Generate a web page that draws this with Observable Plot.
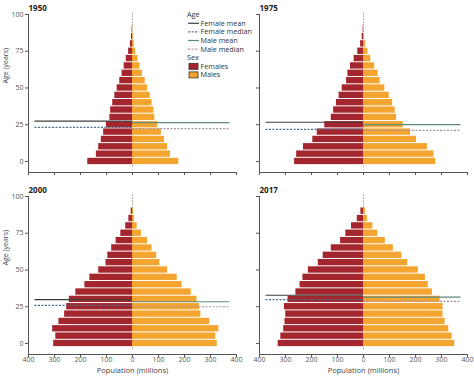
<!DOCTYPE html>
<html>
<head>
<meta charset="utf-8">
<script src="https://cdn.jsdelivr.net/npm/d3@7"></script>
<script src="https://cdn.jsdelivr.net/npm/@observablehq/plot@0.6"></script>
<style>
  body { margin: 0; background: #fff; }
  #wrap { position: relative; width: 474px; height: 376px; overflow: hidden; font-family: "Open Sans", sans-serif; }
  .panel { position: absolute; }
  #legend { position: absolute; left: 0; top: 0; pointer-events: none; }
</style>
</head>
<body>
<div id="wrap"></div>
<script>
// ---------------- data ----------------
const years = ["1950", "1975", "2000", "2017"];
const ages = [0, 5, 10, 15, 20, 25, 30, 35, 40, 45, 50, 55, 60, 65, 70, 75, 80, 85, 90];

// population in millions by age group
const females1950 = [172, 139, 130, 120, 111, 100, 87, 84, 76, 68, 59, 49, 40, 32, 24, 15, 8, 4, 1.5];
const males1950   = [178, 146, 135, 123, 111, 97, 86, 82, 75, 68, 58, 49, 38, 29, 21, 12, 7, 3, 1];
const females1975 = [265, 257, 231, 195, 178, 149, 124, 115, 104, 94, 82, 65, 60, 50, 36, 22, 11, 5, 1.5];
const males1975   = [278, 271, 246, 204, 181, 153, 127, 122, 112, 99, 82, 64, 56, 43, 28, 17, 9, 4, 1];
const females2000 = [303, 295, 307, 283, 261, 253, 243, 218, 183, 164, 130, 102, 95, 80, 63, 45, 26, 14, 5];
const males2000   = [326, 320, 332, 297, 263, 258, 248, 226, 191, 172, 135, 105, 93, 75, 58, 34, 18, 8, 4];
const females2017 = [328, 318, 307, 302, 299, 304, 290, 260, 244, 233, 212, 174, 155, 124, 88, 68, 46, 24, 10];
const males2017   = [351, 341, 328, 314, 306, 306, 295, 265, 249, 238, 211, 170, 148, 115, 84, 55, 36, 15, 8];

// mean / median ages (years)
const femaleMean   = [27.5, 26.7, 29.9, 32.8];
const femaleMedian = [23.2, 21.9, 25.9, 29.9];
const maleMean     = [26.4, 25.1, 28.4, 31.5];
const maleMedian   = [22.3, 21.2, 25.0, 28.6];

// axes
const xTicks = [-400, -300, -200, -100, 0, 100, 200, 300, 400];
const yTicks = [0, 25, 50, 75, 100];
const xDomain = [-400, 400];
const yDomain = [-7.5, 100];
const lineExtent = 375;           // extent of the mean/median lines (millions)
const zeroLineSpan = [-4, 101];   // extent of the dotted line at 0 (years)

const ageLegendTitle = "Age";
const ageLegendLabels = ["Female mean", "Female median", "Male mean", "Male median"];
const sexLegendTitle = "Sex";
const sexLegendLabels = ["Females", "Males"];
const xLabel = "Population (millions)";
const yLabel = "Age (years)";

// ---------------- styles ----------------
const FONT = "'Open Sans', sans-serif";
const femaleColor = "#a3252e";
const maleColor = "#f4a530";
const lineStyles = {
  "Female mean":   {stroke: "#3f3f3f", dash: null},
  "Female median": {stroke: "#4d6b8a", dash: "2,1.5"},
  "Male mean":     {stroke: "#5f8a7c", dash: null},
  "Male median":   {stroke: "#a98f9c", dash: "2,1.5"}
};
const femaleByYear = [females1950, females1975, females2000, females2017];
const maleByYear = [males1950, males1975, males2000, males2017];
const statByKey = {
  "Female mean": femaleMean, "Female median": femaleMedian,
  "Male mean": maleMean, "Male median": maleMedian
};

const layout = [
  {left: 0,   top: 0,   ml: 28, mr: 4, h: 186, mb: 14, yLabels: true,  xLabels: false},
  {left: 234, top: 0,   ml: 25, mr: 7, h: 186, mb: 14, yLabels: false, xLabels: false},
  {left: 0,   top: 182, ml: 28, mr: 4, h: 194, mb: 22, yLabels: true,  xLabels: true},
  {left: 234, top: 182, ml: 25, mr: 7, h: 194, mb: 22, yLabels: false, xLabels: true}
];

const wrap = document.getElementById("wrap");

years.forEach((year, i) => {
  const cfg = layout[i];
  const rows = ages.map((a, k) => ({age: a, f: femaleByYear[i][k], m: maleByYear[i][k]}));
  const statMarks = ageLegendLabels.map(key => {
    const isFemale = key.startsWith("Female");
    const st = lineStyles[key];
    return Plot.ruleY([statByKey[key][i]], {
      y: d => d,
      x1: isFemale ? -lineExtent : 0,
      x2: isFemale ? 0 : lineExtent,
      stroke: st.stroke,
      strokeWidth: 1.2,
      strokeDasharray: st.dash
    });
  });
  const marks = [
    Plot.ruleX([0], {y1: zeroLineSpan[0], y2: zeroLineSpan[1], stroke: "#9a9a9a", strokeDasharray: "1.5,1.5"}),
    Plot.rectX(rows, {x1: 0, x2: d => -d.f, y1: d => d.age - 2.5, y2: d => d.age + 2.5, insetTop: 0.5, insetBottom: 0.5, fill: femaleColor}),
    Plot.rectX(rows, {x1: 0, x2: "m", y1: d => d.age - 2.5, y2: d => d.age + 2.5, insetTop: 0.5, insetBottom: 0.5, fill: maleColor}),
    ...statMarks,
    Plot.ruleY([yDomain[0]], {x1: xDomain[0], x2: xDomain[1], stroke: "#555"}),
    Plot.ruleX([xDomain[0]], {y1: yDomain[0], y2: yDomain[1], stroke: "#555"}),
    Plot.axisX({ticks: xTicks, anchor: "bottom", tickSize: 3, tickPadding: 0, label: null, fontSize: 7,
      tickFormat: cfg.xLabels ? d => String(Math.abs(d)) : () => ""}),
    Plot.axisY({ticks: yTicks, anchor: "left", tickSize: 3, tickPadding: 2, label: null, fontSize: 7,
      tickFormat: cfg.yLabels ? d => String(d) : () => ""}),
    Plot.text([year], {frameAnchor: "top-left", dy: -9, textAnchor: "start", fontWeight: "bold", fontSize: 8, fill: "#222"})
  ];
  if (cfg.xLabels) {
    marks.push(Plot.text([xLabel], {frameAnchor: "bottom", dy: 18.5, fontSize: 7.5, fill: "#444"}));
  }
  if (cfg.yLabels) {
    marks.push(Plot.text([yLabel], {frameAnchor: "left", rotate: -90, dx: -23, dy: -10, fontSize: 7, fill: "#444"}));
  }
  const chart = Plot.plot({
    width: 240,
    height: cfg.h,
    marginLeft: cfg.ml,
    marginRight: cfg.mr,
    marginTop: 14,
    marginBottom: cfg.mb,
    x: {domain: xDomain},
    y: {domain: yDomain},
    style: {fontFamily: FONT, fontSize: "7px", color: "#555", background: "transparent", overflow: "visible"},
    marks
  });
  chart.classList.add("panel");
  chart.style.left = cfg.left + "px";
  chart.style.top = cfg.top + "px";
  wrap.appendChild(chart);
});

// ---------------- legend ----------------
const leg = d3.select(wrap).append("svg")
  .attr("id", "legend").attr("width", 474).attr("height", 376)
  .style("font-family", FONT).style("font-size", "7.2px");
const lx = 187, ly0 = 14.7, step = 8.6;
leg.append("text").attr("x", lx).attr("y", ly0).attr("dy", "0.35em").attr("fill", "#333").text(ageLegendTitle);
ageLegendLabels.forEach((label, k) => {
  const y = ly0 + step * (k + 1);
  const st = lineStyles[label];
  leg.append("line").attr("x1", lx + 1).attr("x2", lx + 12).attr("y1", y).attr("y2", y)
    .attr("stroke", st.stroke).attr("stroke-width", 1.2).attr("stroke-dasharray", st.dash);
  leg.append("text").attr("x", lx + 13.5).attr("y", y).attr("dy", "0.35em").attr("fill", "#333").text(label);
});
const sy = ly0 + step * 5;
leg.append("text").attr("x", lx).attr("y", sy).attr("dy", "0.35em").attr("fill", "#333").text(sexLegendTitle);
sexLegendLabels.forEach((label, k) => {
  const y = sy + step * (k + 1);
  leg.append("rect").attr("x", lx + 2).attr("y", y - 3).attr("width", 9).attr("height", 6)
    .attr("fill", k === 0 ? femaleColor : maleColor).attr("stroke", "#3a2a2a").attr("stroke-width", 0.8);
  leg.append("text").attr("x", lx + 13.5).attr("y", y).attr("dy", "0.35em").attr("fill", "#333").text(label);
});
</script>
</body>
</html>
